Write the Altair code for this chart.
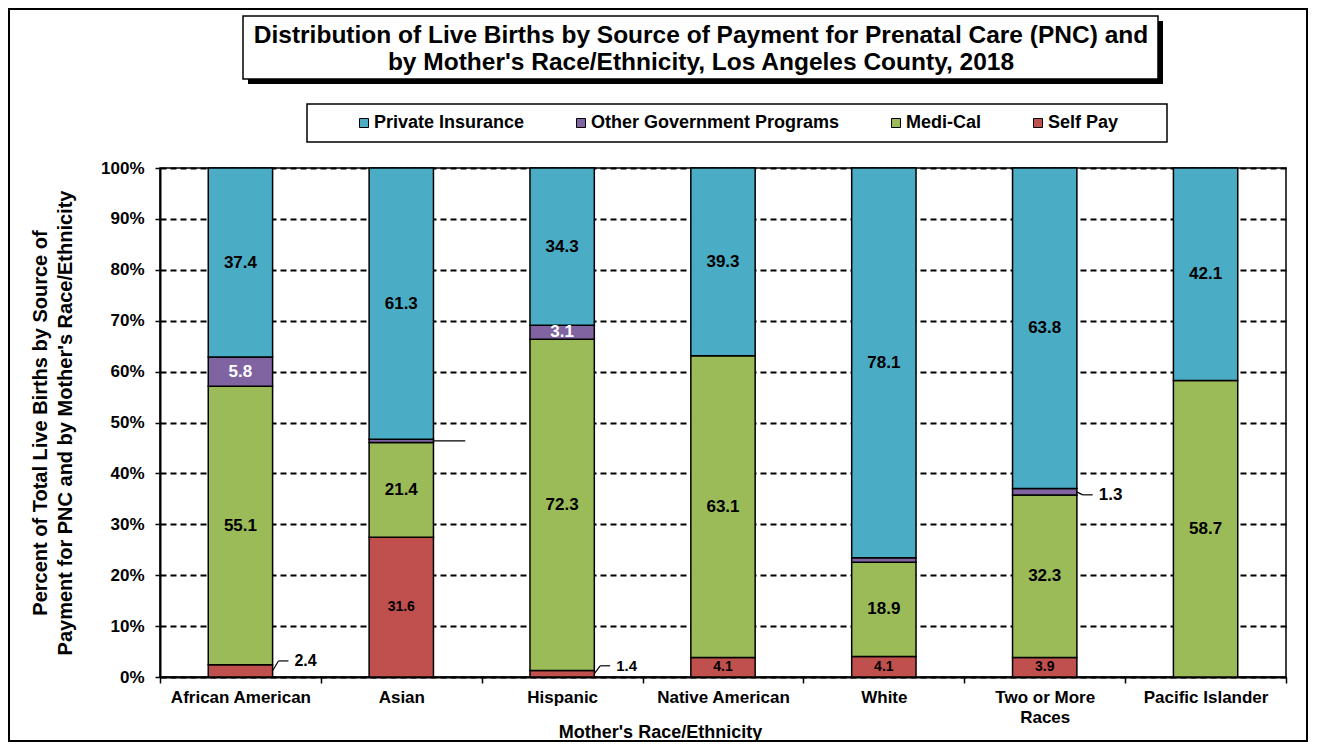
import altair as alt
import pandas as pd

# ---------------- data ----------------
categories = ["African American", "Asian", "Hispanic", "Native American",
              "White", "Two or More Races", "Pacific Islander"]
series_names = ["Private Insurance", "Other Government Programs", "Medi-Cal", "Self Pay"]
private_ins = [37.4, 61.3, 34.3, 39.3, 78.1, 63.8, 42.1]
other_gov = [5.8, 0.7, 3.1, 0.0, 0.9, 1.3, 0.0]
medi_cal = [55.1, 21.4, 72.3, 63.1, 18.9, 32.3, 58.7]
self_pay = [2.4, 31.6, 1.4, 4.1, 4.1, 3.9, 0.0]
y_ticks = [0, 0.1, 0.2, 0.3, 0.4, 0.5, 0.6, 0.7, 0.8, 0.9, 1.0]
colors = ["#4BACC6", "#8064A2", "#9BBB59", "#C0504D"]

# label styles (which data labels are drawn and how)
small_labels = [("Asian", "Self Pay"), ("Native American", "Self Pay"),
                ("White", "Self Pay"), ("Two or More Races", "Self Pay")]
white_labels = [("African American", "Other Government Programs"),
                ("Hispanic", "Other Government Programs")]
hidden_labels = [("White", "Other Government Programs")]
# outside labels: (category, series, show text, label dy, leader rise, font size)
outside_labels = [("African American", "Self Pay", True, -10, -10, 16),
                  ("Hispanic", "Self Pay", True, -8, -8, 15),
                  ("Two or More Races", "Other Government Programs", True, 3, 3, 17),
                  ("Asian", "Other Government Programs", False, 0, 0, 15)]

FONT = "Liberation Sans"

rows = []
for i, c in enumerate(categories):
    for s, vals, order in [("Self Pay", self_pay, 0), ("Medi-Cal", medi_cal, 1),
                           ("Other Government Programs", other_gov, 2),
                           ("Private Insurance", private_ins, 3)]:
        key = (c, s)
        if key in [(o[0], o[1]) for o in outside_labels]:
            kind = "out"
        elif key in small_labels:
            kind = "small"
        elif key in white_labels:
            kind = "white"
        elif key in hidden_labels:
            kind = "none"
        else:
            kind = "big"
        rows.append({"cat": c, "series": s, "value": vals[i], "ord": order, "kind": kind})
df = pd.DataFrame(rows)

W, H = 1126, 509
BAR_HALF = 32

x_axis = alt.Axis(title="Mother's Race/Ethnicity", tickBand="extent",
                  labelAngle=0, labelFont=FONT, labelFontSize=17,
                  labelFontWeight="bold", labelColor="black",
                  labelPadding=6, tickSize=6, tickColor="black",
                  tickWidth=1.5, domainColor="black", domainWidth=2,
                  labelLineHeight=20,
                  labelExpr="datum.label == 'Two or More Races' ? ['Two or More', 'Races'] : datum.label",
                  titleFont=FONT, titleFontSize=18, titleFontWeight="bold",
                  titleColor="black", titleX=500, titleY=55,
                  titleBaseline="middle")
x_scale = alt.Scale(paddingInner=0, paddingOuter=0)

y_axis = alt.Axis(values=y_ticks, format=".0%", grid=True,
                  gridColor="black", gridDash=[6, 4], gridWidth=2,
                  labelFont=FONT, labelFontSize=17, labelFontWeight="bold",
                  labelColor="black", labelPadding=11, tickSize=5,
                  tickColor="black", tickWidth=1.5, domainColor="black",
                  domainWidth=2,
                  title=["Percent of Total Live Births by Source of",
                         "Payment for PNC and by Mother's Race/Ethnicity"],
                  titleFont=FONT, titleFontSize=20, titleFontWeight="bold",
                  titleColor="black", titleAngle=-90, titleX=-120,
                  titleY=H / 2, titleAlign="center", titleBaseline="middle",
                  titleLineHeight=25)
y_scale = alt.Scale(domain=[0, 1], nice=False)

def X():
    return alt.X("cat:N", sort=categories, scale=x_scale, axis=x_axis)

def Y(field):
    return alt.Y(field, scale=y_scale, axis=y_axis)

base = alt.Chart(df)

bars = base.transform_filter("datum.value > 0").mark_bar(
    stroke="black", strokeWidth=1.5, width=alt.RelativeBandSize(0.4)
).encode(
    x=X(),
    y=alt.Y("value:Q", stack="normalize", scale=y_scale, axis=y_axis),
    color=alt.Color("series:N",
                    scale=alt.Scale(domain=series_names, range=colors),
                    legend=alt.Legend(orient="none", legendX=195, legendY=-54,
                                      direction="horizontal", title=None,
                                      symbolType="square", symbolSize=81,
                                      symbolStrokeColor="black", symbolStrokeWidth=1,
                                      labelFont=FONT, labelFontSize=18,
                                      labelFontWeight="bold", labelColor="black",
                                      labelOffset=1, columnPadding=47, padding=0,
                                      labelLimit=400)),
    order=alt.Order("ord:Q", sort="ascending"),
)

stacked = base.transform_stack(
    stack="value", groupby=["cat"], as_=["v0", "v1"], offset="normalize",
    sort=[alt.SortField("ord", order="ascending")]
).transform_calculate(mid="(datum.v0 + datum.v1) / 2").transform_filter("datum.value > 0")

def label_layer(kind, size, color):
    return stacked.transform_filter(f"datum.kind == '{kind}'").mark_text(
        font=FONT, fontSize=size, fontWeight="bold", color=color, baseline="middle"
    ).encode(
        x=X(),
        y=Y("mid:Q"),
        text=alt.Text("value:Q", format=".1f"),
    )

layers = [bars,
          label_layer("big", 17, "black"),
          label_layer("small", 14, "black"),
          label_layer("white", 17, "white")]

for c, s, show, dy, rise, fs in outside_labels:
    sel = stacked.transform_filter(
        f"datum.cat == '{c}' && datum.series == '{s}'")
    enc = dict(x=X(), x2="cat:N", y=Y("mid:Q"), y2="mid:Q")
    if rise != 0:
        layers.append(sel.mark_rule(color="black", strokeWidth=1.2,
                                    xOffset=BAR_HALF, x2Offset=BAR_HALF + 6,
                                    yOffset=0, y2Offset=rise).encode(**enc))
        layers.append(sel.mark_rule(color="black", strokeWidth=1.2,
                                    xOffset=BAR_HALF + 6, x2Offset=BAR_HALF + 16,
                                    yOffset=rise, y2Offset=rise).encode(**enc))
    else:
        layers.append(sel.mark_rule(color="black", strokeWidth=1.2,
                                    xOffset=BAR_HALF, x2Offset=BAR_HALF + 32
                                    ).encode(**enc))
    if show:
        layers.append(sel.mark_text(font=FONT, fontSize=fs, fontWeight="bold",
                                    color="black", align="left", baseline="middle",
                                    dx=BAR_HALF + 22, dy=dy).encode(
            x=X(), y=Y("mid:Q"),
            text=alt.Text("value:Q", format=".1f")))

# ---------------- decorations: frame, title box, legend box ----------------
one = alt.Chart(pd.DataFrame({"a": [0]}))
outer = one.mark_rect(fill="white", fillOpacity=0, stroke="black", strokeWidth=2).encode(
    x=alt.value(-151), x2=alt.value(1147), y=alt.value(-159), y2=alt.value(573))
shadow = one.mark_rect(fill="black").encode(
    x=alt.value(88), x2=alt.value(1003), y=alt.value(-147), y2=alt.value(-84))
tbox = one.mark_rect(fill="white", stroke="black", strokeWidth=1.5).encode(
    x=alt.value(83), x2=alt.value(998), y=alt.value(-152), y2=alt.value(-89))
t1 = one.mark_text(font=FONT, fontSize=24.5, fontWeight="bold", color="black",
                   baseline="middle").encode(
    x=alt.value(541), y=alt.value(-132),
    text=alt.value("Distribution of Live Births by Source of Payment for Prenatal Care (PNC) and"))
t2 = one.mark_text(font=FONT, fontSize=24.5, fontWeight="bold", color="black",
                   baseline="middle").encode(
    x=alt.value(541), y=alt.value(-105),
    text=alt.value("by Mother's Race/Ethnicity, Los Angeles County, 2018"))
lbox = one.mark_rect(fill="white", stroke="black", strokeWidth=1.5).encode(
    x=alt.value(147), x2=alt.value(1007), y=alt.value(-64), y2=alt.value(-26))

chart = alt.layer(outer, shadow, tbox, t1, t2, lbox, *layers).properties(
    width=W, height=H,
    padding={"left": 152, "top": 160, "right": 22, "bottom": 65},
    autosize=alt.AutoSizeParams(type="none"),
    background="white",
).configure_view(stroke="black", strokeWidth=1.5)

chart.save("out.html", embed_options={"renderer": "svg", "actions": False})
